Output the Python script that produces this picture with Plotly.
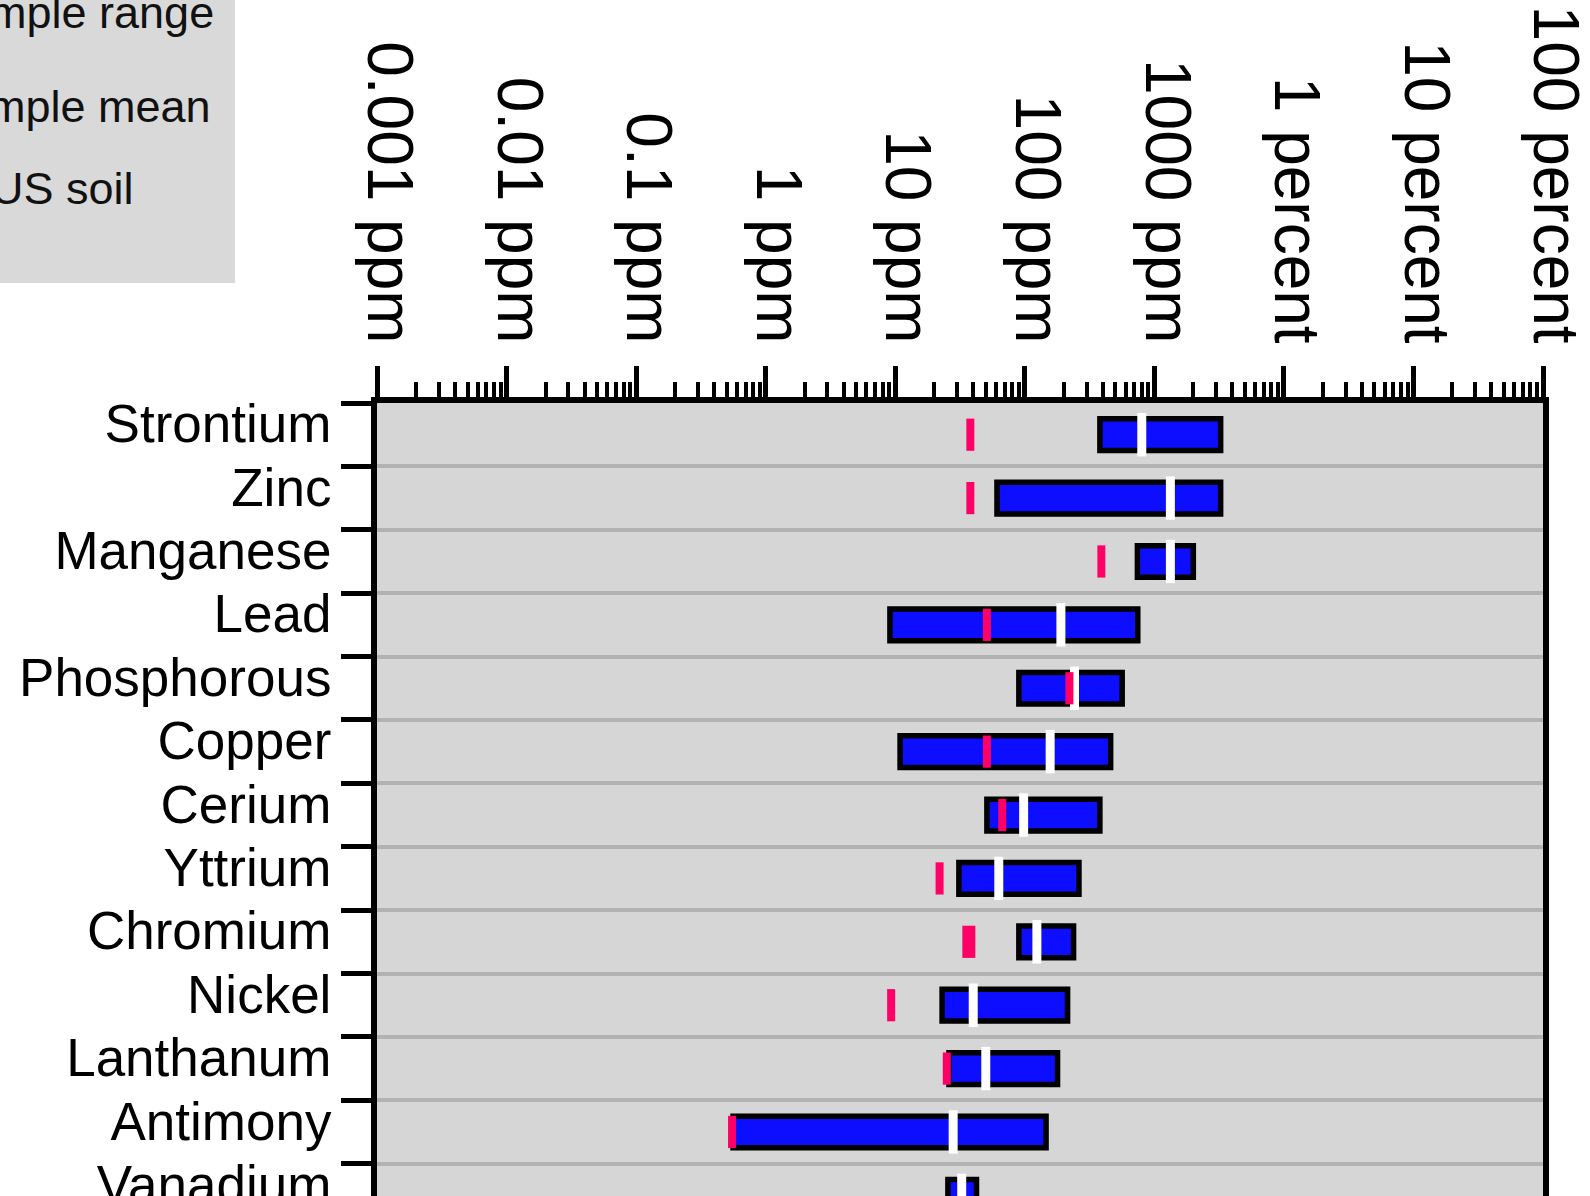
import plotly.graph_objects as go

# Element concentrations (ppm): sampled range, sample mean and average US soil
elements = ["Strontium", "Zinc", "Manganese", "Lead", "Phosphorous", "Copper",
            "Cerium", "Yttrium", "Chromium", "Nickel", "Lanthanum", "Antimony",
            "Vanadium"]
range_low = [380, 61, 740, 9.1, 90, 10.9, 51, 31, 90, 23, 26, 0.56, 25.5]
range_high = [3250, 3250, 2000, 745, 565, 460, 380, 262, 238, 214, 179, 146, 42.4]
sample_mean = [800, 1330, 1330, 190, 242, 157, 98, 63, 124, 40, 50, 28, 32.6]
us_soil = [38, 38, 390, 51, 221, 51, 67, 22, 37, 9.3, 25, 0.55, None]

tick_values = [1e-3, 1e-2, 1e-1, 1, 10, 100, 1000, 1e4, 1e5, 1e6]
tick_text = ["0.001 ppm", "0.01 ppm", "0.1 ppm", "1 ppm", "10 ppm", "100 ppm",
             "1000 ppm", "1 percent", "10 percent", "100 percent"]
legend_labels = ["Sample range", "Sample mean", "US soil"]

FONT = "Liberation Sans, Arial, Helvetica, sans-serif"
W, H = 1590, 1196
ML, MR, MT, MB = 377, 47, 403, 0
PW, PH = W - ML - MR, H - MT - MB

minor_vals = [m * 10 ** e for e in range(-3, 6) for m in range(2, 10)]
soil_width = [13 if e == "Chromium" else 8 for e in elements]

fig = go.Figure()

fig.add_trace(go.Bar(
    y=elements,
    base=range_low,
    x=[h - l for l, h in zip(range_low, range_high)],
    orientation="h",
    width=0.5,
    marker=dict(color="#0d0dff", line=dict(color="black", width=5.5)),
    name=legend_labels[0],
    showlegend=False,
))

fig.add_trace(go.Scatter(
    x=sample_mean, y=elements, mode="markers",
    marker=dict(symbol="line-ns", size=31,
                line=dict(color="white", width=9)),
    name=legend_labels[1], showlegend=False,
))

fig.add_trace(go.Scatter(
    x=us_soil, y=elements, mode="markers",
    marker=dict(symbol="line-ns", size=23,
                line=dict(color="#ff0066", width=soil_width)),
    name=legend_labels[2], showlegend=False,
))

# legend panel in the top-left corner
def px_x(px):
    return (px - ML) / PW

def px_y(py):
    return (H - MB - py) / PH

fig.add_shape(type="rect", xref="paper", yref="paper",
              x0=px_x(-20), x1=px_x(235), y0=px_y(283), y1=px_y(-20),
              fillcolor="#d9d9d9", line=dict(width=0), layer="below")

legend_right = [216, 213, 136]
legend_mid = [12, 106, 189]
for text, xr, ym in zip(legend_labels, legend_right, legend_mid):
    fig.add_annotation(text=text, xref="paper", yref="paper",
                       x=px_x(xr), y=px_y(ym), xanchor="right", yanchor="middle",
                       showarrow=False,
                       font=dict(family=FONT, size=45, color="#111111"))

fig.update_layout(
    width=W, height=H,
    margin=dict(l=ML, r=MR, t=MT, b=MB, pad=0, autoexpand=False),
    paper_bgcolor="white",
    plot_bgcolor="#d6d6d6",
    barmode="overlay",
    showlegend=False,
    font=dict(family=FONT, color="black"),
)

fig.update_xaxes(
    type="log", side="top", range=[-3, 6], automargin=False,
    tickmode="array", tickvals=tick_values, ticktext=tick_text,
    tickangle=90, ticks="outside", ticklen=31, tickwidth=5, tickcolor="black",
    ticklabelshift=12, ticklabelstandoff=0, ticklabeloverflow="allow",
    tickfont=dict(family=FONT, size=64, color="black"),
    showline=True, linewidth=6, linecolor="black",
    showgrid=False, zeroline=False,
    minor=dict(tickmode="array", tickvals=minor_vals, ticks="outside",
               ticklen=15, tickwidth=4, tickcolor="black", showgrid=False),
)

# the last row (Vanadium) runs past the bottom edge of the page
fig.update_yaxes(
    type="category", categoryorder="array", categoryarray=elements,
    range=[12.01, -0.5], tickson="boundaries", automargin=False,
    tickmode="linear", tick0=0, dtick=1,
    ticks="outside", ticklen=30, tickwidth=5, tickcolor="black",
    ticklabelshift=11, ticklabelstandoff=29, ticklabeloverflow="allow",
    tickfont=dict(family=FONT, size=53, color="black"),
    showline=True, linewidth=6, linecolor="black", mirror=True,
    showgrid=True, gridcolor="#b2b2b2", gridwidth=3.5, zeroline=False,
)

fig.write_html("out.html")
